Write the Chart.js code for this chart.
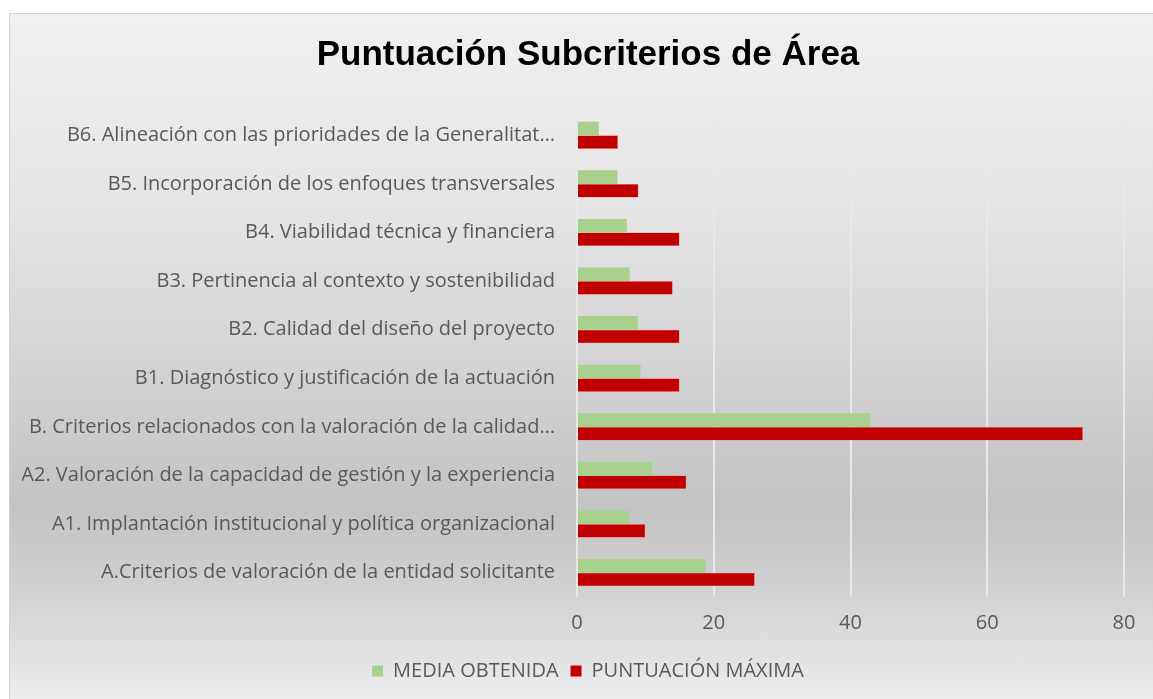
<!DOCTYPE html>
<html>
<head>
<meta charset="utf-8">
<script src="https://cdn.jsdelivr.net/npm/chart.js@4.4.1/dist/chart.umd.min.js"></script>
<style>
  html, body { margin: 0; padding: 0; background: #ffffff; }
  #box {
    position: absolute;
    left: 9px;
    top: 13px;
    width: 1143px;
    height: 685px;
    overflow: hidden;
    border: 1px solid #d4d4d4;
    background: linear-gradient(to bottom, #f0f0f0 0%, #e4e4e4 30%, #c3c3c3 72%, #d2d2d2 85%, #ededed 100%);
  }
  #myChart { position: absolute; left: 12px; top: 0; }
</style>
</head>
<body>
<div id="box">
  <canvas id="myChart" width="1143" height="685"></canvas>
</div>
<script>
// categorias (de arriba a abajo, como en el grafico)
const categorias = [
  "B6. Alineación con las prioridades de la Generalitat…",
  "B5. Incorporación de los enfoques transversales",
  "B4. Viabilidad técnica y financiera",
  "B3. Pertinencia al contexto y sostenibilidad",
  "B2. Calidad del diseño del proyecto",
  "B1. Diagnóstico y justificación de la actuación",
  "B. Criterios relacionados con la valoración de la calidad…",
  "A2. Valoración de la capacidad de gestión y la experiencia",
  "A1. Implantación institucional y política organizacional",
  "A.Criterios de valoración de la entidad solicitante",
];

const mediaObtenida = [3.2, 5.9, 7.3, 7.7, 8.9, 9.3, 42.9, 11.0, 7.6, 18.8];
const puntuacionMaxima = [6, 9, 15, 14, 15, 15, 74, 16, 10, 26];

const ticksX = [0, 20, 40, 60, 80];

const fuente = "'Open Sans', Lato, sans-serif";

const ctx = document.getElementById("myChart").getContext("2d");

new Chart(ctx, {
  type: "bar",
  data: {
    labels: categorias,
    datasets: [
      {
        label: "MEDIA OBTENIDA",
        data: mediaObtenida,
        backgroundColor: "#a9d18e",
        borderWidth: 0,
        categoryPercentage: 0.56,
        barPercentage: 1.0,
      },
      {
        label: "PUNTUACIÓN MÁXIMA",
        data: puntuacionMaxima,
        backgroundColor: "#c00000",
        borderColor: "#ff6b6b",
        borderWidth: 0.6,
        categoryPercentage: 0.56,
        barPercentage: 1.0,
      },
    ],
  },
  options: {
    indexAxis: "y",
    responsive: false,
    animation: false,
    layout: {
      padding: { left: 0, right: 11, top: 6, bottom: 8 },
    },
    scales: {
      x: {
        min: ticksX[0],
        max: ticksX[ticksX.length - 1],
        afterBuildTicks: (axis) => {
          axis.ticks = ticksX.map((v) => ({ value: v }));
        },
        grid: { color: "#e8e8e8", lineWidth: 2, drawTicks: false },
        border: { display: false },
        ticks: {
          color: "#595959",
          padding: 23,
          font: { family: fuente, size: 20, lineHeight: 0.3 },
        },
      },
      y: {
        afterFit: (axis) => {
          axis.width = 555;
        },
        grid: { display: false, drawTicks: false },
        border: { display: false },
        ticks: {
          color: "#595959",
          padding: 22,
          font: { family: fuente, size: 20 },
        },
      },
      // eje vacio a la derecha, solo para dejar margen como en el original
      yDer: {
        type: "category",
        position: "right",
        afterFit: (axis) => {
          axis.width = 30;
        },
        grid: { display: false, drawTicks: false },
        border: { display: false },
        ticks: { display: false },
      },
    },
    plugins: {
      title: {
        display: true,
        text: "Puntuación Subcriterios de Área",
        color: "#000000",
        padding: { top: 14, bottom: 35 },
        font: { family: "'Liberation Sans Narrow', 'Arial Narrow', 'Liberation Sans', sans-serif", size: 35, weight: "bold" },
      },
      legend: {
        position: "bottom",
        labels: {
          color: "#595959",
          boxWidth: 11,
          boxHeight: 11,
          padding: 12,
          font: { family: fuente, size: 20 },
        },
      },
      tooltip: { enabled: false },
    },
  },
});
</script>
</body>
</html>
